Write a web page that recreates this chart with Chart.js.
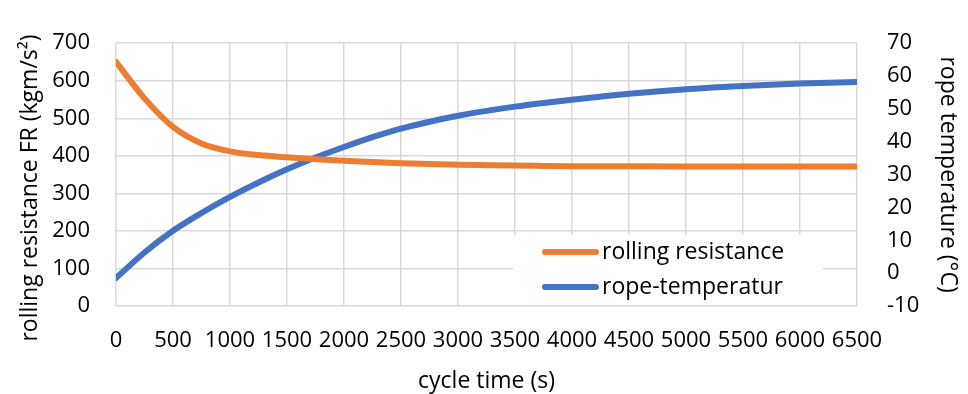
<!DOCTYPE html>
<html>
<head>
<meta charset="utf-8">
<script src="https://cdn.jsdelivr.net/npm/chart.js@4.4.1/dist/chart.umd.min.js"></script>
<style>
  html, body { margin: 0; padding: 0; background: #fff; }
  #wrap { width: 968px; height: 394px; }
</style>
</head>
<body>
<div id="wrap"><canvas id="chart" width="968" height="394"></canvas></div>
<script>
// cycle time (s)
const cycleTime = [0, 250, 500, 750, 1000, 1250, 1500, 1750, 2000, 2250, 2500, 2750, 3000, 3250, 3500, 3750, 4000, 4500, 5000, 5500, 6000, 6500];
// rolling resistance FR (kgm/s²), left axis
const rollingResistance = [650, 553, 477, 433, 412, 402, 396, 391, 387, 383.5, 380.5, 378.3, 376.5, 375.2, 374, 373.2, 372.5, 372, 371.7, 371.5, 371.5, 371.5];
// rope temperature (°C), right axis
const ropeTemperature = [-1.5, 6.3, 12.9, 18.3, 23.2, 27.6, 31.6, 35.2, 38.4, 41.4, 44.0, 46.1, 47.9, 49.4, 50.7, 51.8, 52.8, 54.6, 56.0, 57.0, 57.7, 58.2];

const seriesLabels = ['rolling resistance', 'rope-temperatur'];
const xTitle = 'cycle time (s)';
const yLeftTitle = 'rolling resistance FR (kgm/s\u00B2)';
const yRightTitle = 'rope temperature (\u00B0C)';

const FONT = '"Open Sans", "Noto Sans", sans-serif';
const ORANGE = '#ED7D31';
const BLUE = '#4472C4';
const GRID = '#D9D9D9';
const TEXT = '#000000';

function toPoints(xs, ys) {
    return xs.map((x, i) => ({ x: x, y: ys[i] }));
}

// legend box sitting inside the plot, drawn over the grid but under the lines
const insideLegend = {
    id: 'insideLegend',
    beforeDatasetsDraw(chart) {
        const ctx = chart.ctx;
        ctx.save();
        ctx.fillStyle = '#fff';
        ctx.fillRect(513, 235, 310, 70);
        const rows = [252, 287];
        chart.data.datasets.forEach((ds, i) => {
            ctx.strokeStyle = ds.borderColor;
            ctx.lineWidth = 6;
            ctx.lineCap = 'round';
            ctx.beginPath();
            ctx.moveTo(545, rows[i]);
            ctx.lineTo(596, rows[i]);
            ctx.stroke();
            ctx.fillStyle = TEXT;
            ctx.font = '23px ' + FONT;
            ctx.textBaseline = 'middle';
            ctx.textAlign = 'left';
            ctx.fillText(ds.label, 602, rows[i]);
        });
        ctx.restore();
    }
};

// left title is longer than the plot, so it is placed by hand
const leftTitle = {
    id: 'leftTitle',
    afterDraw(chart) {
        const ctx = chart.ctx;
        ctx.save();
        ctx.translate(30, 188);
        ctx.rotate(-Math.PI / 2);
        ctx.fillStyle = TEXT;
        ctx.font = '23px ' + FONT;
        ctx.textAlign = 'center';
        ctx.textBaseline = 'middle';
        ctx.fillText(yLeftTitle, 0, 0);
        ctx.restore();
    }
};

const tickFont = { family: FONT, size: 22 };
const titleFont = { family: FONT, size: 23, lineHeight: 1 };

const ctx = document.getElementById('chart').getContext('2d');
const chart = new Chart(ctx, {
    type: 'line',
    data: {
        datasets: [
            {
                label: seriesLabels[0],
                data: toPoints(cycleTime, rollingResistance),
                borderColor: ORANGE,
                backgroundColor: ORANGE,
                borderWidth: 6,
                borderCapStyle: 'round',
                pointRadius: 0,
                cubicInterpolationMode: 'monotone',
                fill: false,
                yAxisID: 'y'
            },
            {
                label: seriesLabels[1],
                data: toPoints(cycleTime, ropeTemperature),
                borderColor: BLUE,
                backgroundColor: BLUE,
                borderWidth: 6,
                borderCapStyle: 'round',
                pointRadius: 0,
                cubicInterpolationMode: 'monotone',
                fill: false,
                yAxisID: 'y2'
            }
        ]
    },
    options: {
        responsive: false,
        animation: false,
        events: [],
        layout: { padding: { top: 23, left: 0, right: 0, bottom: 0 } },
        plugins: {
            legend: { display: false },
            tooltip: { enabled: false }
        },
        scales: {
            x: {
                type: 'linear',
                min: 0,
                max: 6500,
                grid: { color: GRID, lineWidth: 1.5, drawTicks: false },
                border: { display: false },
                ticks: {
                    stepSize: 500,
                    autoSkip: false,
                    maxRotation: 0,
                    padding: 22,
                    color: TEXT,
                    font: tickFont,
                    callback: (v) => String(v)
                },
                title: {
                    display: true,
                    text: xTitle,
                    color: TEXT,
                    padding: { top: 0, bottom: 1 },
                    font: titleFont
                },
                afterFit(scale) { scale.height = 88; }
            },
            y: {
                position: 'left',
                min: 0,
                max: 700,
                grid: { color: GRID, lineWidth: 1.5, drawTicks: false },
                border: { display: false },
                ticks: {
                    stepSize: 100,
                    padding: 26,
                    color: TEXT,
                    font: tickFont,
                    callback: (v) => String(v)
                },
                afterFit(scale) { scale.width = 116; }
            },
            y2: {
                position: 'right',
                min: -10,
                max: 70,
                grid: { display: false, drawTicks: false },
                border: { display: false },
                ticks: {
                    stepSize: 10,
                    padding: 30,
                    color: TEXT,
                    font: tickFont,
                    callback: (v) => String(v)
                },
                title: {
                    display: true,
                    text: yRightTitle,
                    color: TEXT,
                    padding: { top: 8.5, bottom: 0 },
                    font: titleFont
                },
                afterFit(scale) { scale.width = 111; }
            }
        }
    },
    plugins: [insideLegend, leftTitle]
});
</script>
</body>
</html>
